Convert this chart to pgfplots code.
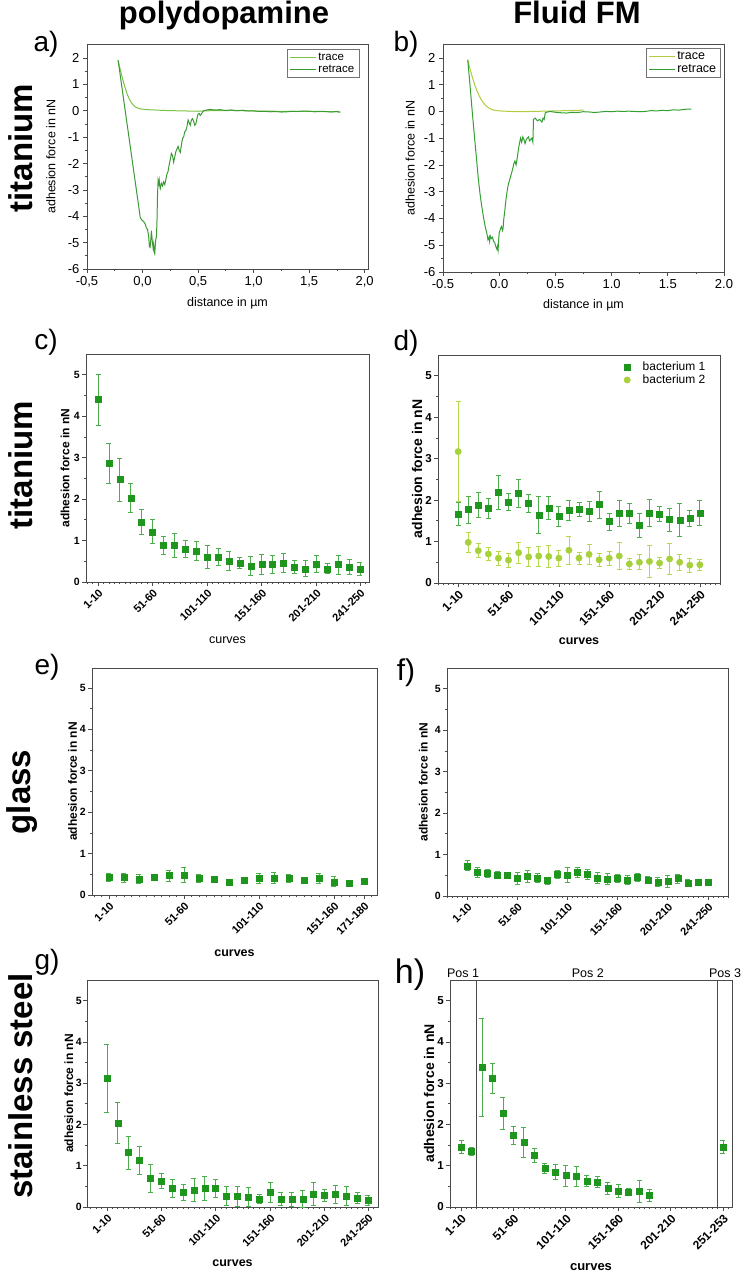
\documentclass[border=0pt]{standalone}
\usepackage{fontspec}
\setmainfont{Liberation Sans}
\usepackage{pgfplots}
\pgfplotsset{compat=1.18}

\definecolor{sqgreen}{HTML}{1E961E}
\definecolor{sqerr}{HTML}{4DAE4D}
\definecolor{cigreen}{HTML}{A6D13A}
\definecolor{cierr}{HTML}{B4D84E}
\definecolor{traceA}{HTML}{7CC243}
\definecolor{retraceA}{HTML}{3C9A34}
\definecolor{traceB}{HTML}{B0CD3C}
\definecolor{retraceB}{HTML}{33A033}
\definecolor{axgray}{HTML}{4A4A4A}

\newcommand\fs[1]{\fontsize{#1}{#1}\selectfont}

\pgfplotsset{
  base/.style={scale only axis, axis line style={axgray,line width=0.8pt},
    tick style={axgray,line width=0.7pt}, tick align=outside, tick pos=left,
    major tick length=4pt, minor tick length=2.2pt, clip=false,
    /pgf/number format/assume math mode=true},
  curve/.style={base, xmin=-0.5, ymin=-6, xtick={-0.5,0,...,2}, ytick={-6,...,2},
    minor x tick num=1, minor y tick num=1,
    tick label style={font={\fs{13}}}, label style={font={\fs{12.5}}},
    xlabel={distance in µm}, ylabel={adhesion force in nN},
    legend cell align=left,
    legend image code/.code={\draw[##1] (0pt,0pt) -- (26pt,0pt);}},
  err/.style={base, ymin=0, ymax=5.5, ytick={0,...,5}, minor y tick num=1,
    yticklabel style={font={\fs{10.5}\bfseries}, inner sep=2pt},
    xticklabel style={font={\fs{11}\bfseries}, rotate=45, anchor=north east, inner sep=1.5pt},
    ylabel={adhesion force in nN}, ylabel style={font={\fs{12}\bfseries}}},
  sq/.style={only marks, mark=square*, mark size=3pt, color=sqgreen,
    error bars/.cd, y dir=both, y explicit,
    error bar style={sqerr, line width=0.8pt},
    error mark options={rotate=90, sqerr, mark size=2.5pt, line width=0.8pt}},
  ci/.style={only marks, mark=*, mark size=3.2pt, color=cigreen,
    error bars/.cd, y dir=both, y explicit,
    error bar style={cierr, line width=0.8pt},
    error mark options={rotate=90, cierr, mark size=2.5pt, line width=0.8pt}},
}

\begin{document}
\begin{tikzpicture}[x=1pt,y=1pt]
\useasboundingbox (0,0) rectangle (747,-1277);

% headers
\node[anchor=base, font={\fs{31}\bfseries}] at (224,-23) {polydopamine};
\node[anchor=base, font={\fs{31}\bfseries}] at (577,-23) {Fluid FM};
\node[rotate=90, font={\fs{33}\bfseries}] at (21,-148) {titanium};
\node[rotate=90, font={\fs{33}\bfseries}] at (21,-465) {titanium};
\node[rotate=90, font={\fs{33}\bfseries}] at (22.5,-792) {glass};
\node[rotate=90, font={\fs{33}\bfseries}] at (21,-1086) {stainless steel};
\node[font={\fs{28}}] at (46,-44) {a)};
\node[font={\fs{28}}] at (406,-44) {b)};
\node[font={\fs{28}}] at (46,-342) {c)};
\node[font={\fs{28}}] at (406,-343) {d)};
\node[font={\fs{28}}] at (47,-667) {e)};
\node[font={\fs{30}}] at (406,-673) {f)};
\node[font={\fs{28}}] at (47,-962) {g)};
\node[font={\fs{34}}] at (410,-975) {h)};

% a
\begin{axis}[curve, at={(87pt,-269pt)}, anchor=south west, width=281pt, height=225pt,
  xmax=2.03, ymax=2.53,
  xlabel style={at={(axis description cs:0.5,-0.151)}, anchor=center},
  ylabel style={at={(axis description cs:-0.128,0.5)}, anchor=center},
  legend style={at={(0.968,0.978)}, anchor=north east, draw=black!55, line width=0.5pt,
    font={\fs{11.5}}, nodes={inner sep=1.5pt}},
  xticklabel style={/pgf/number format/.cd, fixed, fixed zerofill, precision=1, use comma}]
\addplot[traceA, line width=1pt] coordinates {
(-0.22,1.90) (-0.20,1.55) (-0.18,1.22) (-0.16,0.92) (-0.14,0.65) (-0.12,0.45)
(-0.10,0.30) (-0.08,0.20) (-0.06,0.13) (-0.04,0.10) (-0.02,0.07) (0.00,0.06)
(0.05,0.04) (0.10,0.03) (0.15,0.02) (0.20,0.01) (0.30,0.00) (0.40,-0.01)
(0.50,-0.02) (0.60,0.00) (0.80,0.01) (1.00,-0.01) (1.20,-0.02) (1.40,-0.02)
(1.60,-0.03) (1.78,-0.04)};
\addlegendentry{trace}
\addplot[retraceA, line width=1pt] coordinates {
(-0.22,1.92) (-0.20,1.32) (-0.16,0.12) (-0.12,-1.07) (-0.08,-2.27) (-0.04,-3.46)
(-0.02,-4.06) (-0.005,-4.15) (0.01,-4.20) (0.025,-4.30) (0.035,-4.45) (0.045,-4.50)
(0.055,-4.75) (0.062,-5.15) (0.068,-5.18) (0.075,-4.85) (0.08,-4.55) (0.088,-4.95)
(0.095,-5.20) (0.10,-5.05) (0.105,-5.35) (0.11,-5.42) (0.115,-5.10) (0.12,-4.85)
(0.125,-4.80) (0.13,-4.20) (0.135,-3.20) (0.14,-2.65) (0.145,-2.75) (0.15,-2.62)
(0.155,-2.85) (0.16,-2.95) (0.17,-2.75) (0.18,-2.85) (0.19,-2.70) (0.20,-2.80)
(0.21,-2.60) (0.22,-2.40) (0.23,-2.30) (0.24,-2.05) (0.25,-1.85) (0.26,-1.62)
(0.27,-1.70) (0.28,-1.95) (0.29,-1.75) (0.30,-1.55) (0.31,-1.45) (0.32,-1.35)
(0.33,-1.50) (0.34,-1.58) (0.35,-1.30) (0.36,-1.05) (0.37,-1.00) (0.38,-0.80)
(0.39,-0.75) (0.40,-0.60) (0.41,-0.35) (0.42,-0.45) (0.43,-0.55) (0.44,-0.35)
(0.45,-0.30) (0.46,-0.40) (0.47,-0.55) (0.48,-0.50) (0.49,-0.30) (0.50,-0.12)
(0.51,-0.10) (0.52,-0.18) (0.53,-0.12) (0.54,-0.05) (0.55,0.00) (0.57,0.02)
(0.60,0.05) (0.65,0.03) (0.70,0.04) (0.75,0.01) (0.80,0.03) (0.85,0.00)
(0.90,0.02) (0.95,-0.01) (1.00,0.00) (1.05,-0.03) (1.10,-0.02) (1.15,-0.04)
(1.20,-0.03) (1.25,-0.05) (1.30,-0.04) (1.35,-0.02) (1.40,-0.03) (1.45,-0.01)
(1.50,-0.02) (1.55,-0.04) (1.60,-0.02) (1.65,-0.03) (1.70,-0.05) (1.75,-0.03)
(1.78,-0.06)};
\addlegendentry{retrace}
\end{axis}

% b
\begin{axis}[curve, at={(443pt,-272pt)}, anchor=south west, width=281pt, height=228pt,
  xmax=2.0, ymax=2.52,
  xlabel style={at={(axis description cs:0.5,-0.145)}, anchor=center},
  ylabel style={at={(axis description cs:-0.117,0.5)}, anchor=center},
  legend style={at={(0.989,0.982)}, anchor=north east, draw=black!55, line width=0.5pt,
    font={\fs{12.5}}, nodes={inner sep=1.5pt}},
  xticklabel style={/pgf/number format/.cd, fixed, fixed zerofill, precision=1}]
\addplot[traceB, line width=1pt] coordinates {
(-0.28,1.93) (-0.26,1.60) (-0.24,1.30) (-0.22,1.02) (-0.20,0.80) (-0.18,0.60)
(-0.16,0.44) (-0.14,0.32) (-0.12,0.22) (-0.10,0.15) (-0.08,0.10) (-0.05,0.05)
(0.00,0.02) (0.05,0.01) (0.10,0.00) (0.20,-0.01) (0.30,0.00) (0.40,0.01)
(0.50,0.02) (0.60,0.03) (0.70,0.04) (0.75,0.05)};
\addlegendentry{trace}
\addplot[retraceB, line width=1pt] coordinates {
(-0.28,1.93) (-0.26,1.00) (-0.24,0.00) (-0.22,-0.95) (-0.20,-1.85) (-0.185,-2.55)
(-0.17,-3.10) (-0.155,-3.55) (-0.14,-3.95) (-0.125,-4.30) (-0.11,-4.55) (-0.10,-4.80)
(-0.09,-4.70) (-0.085,-4.85) (-0.08,-4.65) (-0.07,-4.75) (-0.06,-4.70) (-0.05,-4.85)
(-0.04,-4.90) (-0.03,-5.05) (-0.02,-5.15) (-0.015,-5.05) (-0.01,-5.18) (-0.005,-4.80)
(0.00,-4.55) (0.01,-4.40) (0.02,-4.30) (0.03,-4.45) (0.035,-4.35) (0.04,-4.05)
(0.05,-3.70) (0.06,-3.30) (0.07,-3.00) (0.08,-2.75) (0.09,-2.60) (0.10,-2.45)
(0.11,-2.30) (0.12,-2.15) (0.13,-1.95) (0.14,-1.85) (0.15,-2.00) (0.16,-1.75)
(0.17,-1.45) (0.18,-1.20) (0.19,-1.00) (0.20,-1.15) (0.21,-0.95) (0.22,-1.05)
(0.23,-1.20) (0.24,-1.05) (0.25,-1.00) (0.26,-0.95) (0.27,-1.10) (0.28,-1.05)
(0.29,-1.00) (0.30,-1.15) (0.305,-0.30) (0.32,-0.25) (0.34,-0.35) (0.36,-0.30)
(0.38,-0.40) (0.39,-0.25) (0.40,-0.30) (0.41,-0.05) (0.43,-0.02) (0.45,0.00)
(0.50,-0.03) (0.55,-0.05) (0.60,-0.06) (0.65,-0.03) (0.70,-0.04) (0.75,-0.01)
(0.80,-0.02) (0.85,-0.04) (0.90,-0.02) (0.95,0.00) (1.00,-0.01) (1.05,0.01)
(1.10,0.00) (1.15,0.01) (1.20,0.00) (1.25,-0.01) (1.30,0.00) (1.35,0.03)
(1.40,0.02) (1.45,0.04) (1.50,0.03) (1.55,0.06) (1.60,0.05) (1.65,0.08) (1.71,0.09)};
\addlegendentry{retrace}
\end{axis}

% c
\begin{axis}[err, at={(86pt,-582pt)}, anchor=south west, width=283pt, height=228pt,
  xmin=-0.1, xmax=25.83, xtick={1,6,11,16,21,25},
  xticklabels={1-10,51-60,101-110,151-160,201-210,241-250},
  minor xtick={0,0.5,...,25.5},
  xlabel={curves}, xlabel style={font={\fs{12.5}}, at={(axis description cs:0.5,-0.254)}, anchor=center},
  ylabel style={at={(axis description cs:-0.074,0.5)}, anchor=center}]
\addplot[sq] coordinates {
(1,4.40) +- (0,0.62) (2,2.86) +- (0,0.49) (3,2.47) +- (0,0.52) (4,2.03) +- (0,0.34)
(5,1.44) +- (0,0.30) (6,1.21) +- (0,0.29) (7,0.88) +- (0,0.22) (8,0.88) +- (0,0.29)
(9,0.80) +- (0,0.20) (10,0.75) +- (0,0.22) (11,0.60) +- (0,0.28) (12,0.60) +- (0,0.20)
(13,0.51) +- (0,0.24) (14,0.46) +- (0,0.13) (15,0.39) +- (0,0.22) (16,0.42) +- (0,0.24)
(17,0.42) +- (0,0.21) (18,0.46) +- (0,0.24) (19,0.36) +- (0,0.16) (20,0.32) +- (0,0.19)
(21,0.44) +- (0,0.21) (22,0.32) +- (0,0.12) (23,0.42) +- (0,0.23) (24,0.36) +- (0,0.18)
(25,0.32) +- (0,0.16)};
\end{axis}

% d
\begin{axis}[err, at={(438pt,-583pt)}, anchor=south west, width=282pt, height=228pt,
  xmin=-1, xmax=27, xtick={1,6,11,16,21,25},
  xticklabels={1-10,51-60,101-110,151-160,201-210,241-250},
  minor xtick={-1,-0.5,...,27},
  yticklabel style={font={\fs{11.5}\bfseries}},
  xticklabel style={font={\fs{12}\bfseries}},
  xlabel={curves}, xlabel style={font={\fs{12.5}\bfseries}, at={(axis description cs:0.5,-0.254)}, anchor=center},
  ylabel style={font={\fs{14}\bfseries}, at={(axis description cs:-0.0745,0.5)}, anchor=center},
  legend style={at={(0.617,0.987)}, anchor=north west, draw=none, fill=none,
    font={\fs{12}}, nodes={inner sep=1.5pt}},
  legend cell align=left,
  legend image code/.code={\path[draw=none, fill=none] (0pt,-3pt) rectangle (26pt,3pt);
    \draw[mark repeat=2, mark phase=2, #1] plot coordinates {(0pt,0pt) (12pt,0pt) (24pt,0pt)};}]
\addplot[sq] coordinates {
(1,1.67) +- (0,0.27) (2,1.77) +- (0,0.32) (3,1.88) +- (0,0.30) (4,1.81) +- (0,0.24)
(5,2.19) +- (0,0.41) (6,1.95) +- (0,0.21) (7,2.16) +- (0,0.33) (8,1.92) +- (0,0.22)
(9,1.64) +- (0,0.45) (10,1.81) +- (0,0.28) (11,1.61) +- (0,0.24) (12,1.75) +- (0,0.25)
(13,1.77) +- (0,0.17) (14,1.73) +- (0,0.25) (15,1.89) +- (0,0.33) (16,1.48) +- (0,0.21)
(17,1.68) +- (0,0.32) (18,1.68) +- (0,0.23) (19,1.40) +- (0,0.29) (20,1.69) +- (0,0.32)
(21,1.67) +- (0,0.19) (22,1.53) +- (0,0.28) (23,1.52) +- (0,0.40) (24,1.56) +- (0,0.19)
(25,1.69) +- (0,0.30)};
\addlegendentry{bacterium 1}
\addplot[ci] coordinates {
(1,3.17) +- (0,1.20) (2,0.98) +- (0,0.25) (3,0.78) +- (0,0.17) (4,0.70) +- (0,0.15)
(5,0.60) +- (0,0.17) (6,0.55) +- (0,0.17) (7,0.73) +- (0,0.26) (8,0.63) +- (0,0.22)
(9,0.65) +- (0,0.24) (10,0.64) +- (0,0.26) (11,0.60) +- (0,0.19) (12,0.79) +- (0,0.34)
(13,0.60) +- (0,0.15) (14,0.69) +- (0,0.25) (15,0.56) +- (0,0.16) (16,0.60) +- (0,0.17)
(17,0.65) +- (0,0.33) (18,0.46) +- (0,0.14) (19,0.50) +- (0,0.18) (20,0.52) +- (0,0.38)
(21,0.48) +- (0,0.13) (22,0.58) +- (0,0.38) (23,0.50) +- (0,0.20) (24,0.43) +- (0,0.17)
(25,0.44) +- (0,0.13)};
\addlegendentry{bacterium 2}
\end{axis}

% e
\begin{axis}[err, at={(92pt,-895pt)}, anchor=south west, width=285pt, height=227pt,
  xmin=-0.13, xmax=18.87, ymax=5.48, xtick={1,6,11,16,18},
  xticklabels={1-10,51-60,101-110,151-160,171-180},
  minor xtick={0,0.5,...,18.5},
  xlabel={curves}, xlabel style={font={\fs{12.5}\bfseries}, at={(axis description cs:0.5,-0.256)}, anchor=center},
  ylabel style={at={(axis description cs:-0.068,0.5)}, anchor=center}]
\addplot[sq] coordinates {
(1,0.42) +- (0,0.10) (2,0.42) +- (0,0.11) (3,0.39) +- (0,0.10) (4,0.43) +- (0,0.03)
(5,0.47) +- (0,0.13) (6,0.48) +- (0,0.18) (7,0.40) +- (0,0.09) (8,0.39) +- (0,0.07)
(9,0.32) +- (0,0.06) (10,0.36) +- (0,0.07) (11,0.40) +- (0,0.12) (12,0.41) +- (0,0.13)
(13,0.40) +- (0,0.10) (14,0.35) +- (0,0.05) (15,0.40) +- (0,0.12) (16,0.32) +- (0,0.12)
(17,0.29) +- (0,0.06) (18,0.33) +- (0,0.06)};
\end{axis}

% f
\begin{axis}[err, at={(447pt,-896pt)}, anchor=south west, width=281pt, height=228pt,
  xmin=-1, xmax=27, xtick={1,6,11,16,21,25},
  xticklabels={1-10,51-60,101-110,151-160,201-210,241-250},
  minor xtick={-1,-0.5,...,27},
  ylabel style={at={(axis description cs:-0.084,0.5)}, anchor=center}]
\addplot[sq] coordinates {
(1,0.73) +- (0,0.12) (2,0.57) +- (0,0.13) (3,0.55) +- (0,0.10) (4,0.51) +- (0,0.09)
(5,0.51) +- (0,0.06) (6,0.43) +- (0,0.14) (7,0.47) +- (0,0.15) (8,0.44) +- (0,0.11)
(9,0.37) +- (0,0.08) (10,0.52) +- (0,0.10) (11,0.51) +- (0,0.17) (12,0.57) +- (0,0.12)
(13,0.52) +- (0,0.12) (14,0.44) +- (0,0.13) (15,0.41) +- (0,0.14) (16,0.42) +- (0,0.10)
(17,0.39) +- (0,0.10) (18,0.45) +- (0,0.09) (19,0.39) +- (0,0.08) (20,0.34) +- (0,0.10)
(21,0.35) +- (0,0.15) (22,0.42) +- (0,0.11) (23,0.31) +- (0,0.09) (24,0.33) +- (0,0.06)
(25,0.33) +- (0,0.07)};
\end{axis}

% g
\begin{axis}[err, at={(87pt,-1207pt)}, anchor=south west, width=291pt, height=227pt,
  xmin=-0.83, xmax=25.92, xtick={1,6,11,16,21,25},
  xticklabels={1-10,51-60,101-110,151-160,201-210,241-250},
  minor xtick={-0.5,0,...,25.5},
  yticklabel style={inner sep=1pt},
  xlabel={curves}, xlabel style={font={\fs{12.5}\bfseries}, at={(axis description cs:0.5,-0.247)}, anchor=center},
  ylabel style={at={(axis description cs:-0.062,0.5)}, anchor=center}]
\addplot[sq] coordinates {
(1,3.12) +- (0,0.82) (2,2.03) +- (0,0.50) (3,1.32) +- (0,0.40) (4,1.13) +- (0,0.35)
(5,0.70) +- (0,0.34) (6,0.63) +- (0,0.19) (7,0.45) +- (0,0.22) (8,0.36) +- (0,0.20)
(9,0.41) +- (0,0.28) (10,0.45) +- (0,0.28) (11,0.45) +- (0,0.21) (12,0.27) +- (0,0.24)
(13,0.26) +- (0,0.24) (14,0.24) +- (0,0.23) (15,0.19) +- (0,0.11) (16,0.35) +- (0,0.24)
(17,0.20) +- (0,0.16) (18,0.19) +- (0,0.17) (19,0.20) +- (0,0.20) (20,0.31) +- (0,0.28)
(21,0.28) +- (0,0.14) (22,0.30) +- (0,0.22) (23,0.27) +- (0,0.24) (24,0.22) +- (0,0.14)
(25,0.16) +- (0,0.12)};
\end{axis}

% h
\begin{axis}[err, at={(450pt,-1207pt)}, anchor=south west, width=282pt, height=227pt,
  xmin=-0.05, xmax=26.86, xtick={1,6,11,16,21,26},
  xticklabels={1-10,51-60,101-110,151-160,201-210,251-253},
  minor xtick={0,0.5,...,26.5},
  yticklabel style={font={\fs{11.5}\bfseries}},
  xticklabel style={font={\fs{12}\bfseries}},
  xlabel={curves}, xlabel style={font={\fs{13}\bfseries}, at={(axis description cs:0.5,-0.264)}, anchor=center},
  ylabel style={font={\fs{14}\bfseries}, at={(axis description cs:-0.0745,0.5)}, anchor=center}]
\draw[axgray, line width=0.8pt] (axis cs:2.5,0) -- (axis cs:2.5,5.5);
\draw[axgray, line width=0.8pt] (axis cs:25.5,0) -- (axis cs:25.5,5.5);
\node[anchor=base, font={\fs{12.5}}] at (axis cs:1.2,5.57) {Pos 1};
\node[anchor=base, font={\fs{12.5}}] at (axis cs:13.1,5.57) {Pos 2};
\node[anchor=base, font={\fs{12.5}}] at (axis cs:26.2,5.57) {Pos 3};
\addplot[sq] coordinates {
(1,1.46) +- (0,0.16) (2,1.35) +- (0,0.09) (3,3.38) +- (0,1.18) (4,3.12) +- (0,0.36)
(5,2.27) +- (0,0.39) (6,1.73) +- (0,0.22) (7,1.57) +- (0,0.36) (8,1.26) +- (0,0.17)
(9,0.93) +- (0,0.12) (10,0.85) +- (0,0.19) (11,0.76) +- (0,0.25) (12,0.75) +- (0,0.24)
(13,0.63) +- (0,0.14) (14,0.61) +- (0,0.14) (15,0.45) +- (0,0.15) (16,0.39) +- (0,0.15)
(17,0.36) +- (0,0.09) (18,0.38) +- (0,0.27) (19,0.28) +- (0,0.14) (26,1.46) +- (0,0.16)};
\end{axis}
\end{tikzpicture}
\end{document}
